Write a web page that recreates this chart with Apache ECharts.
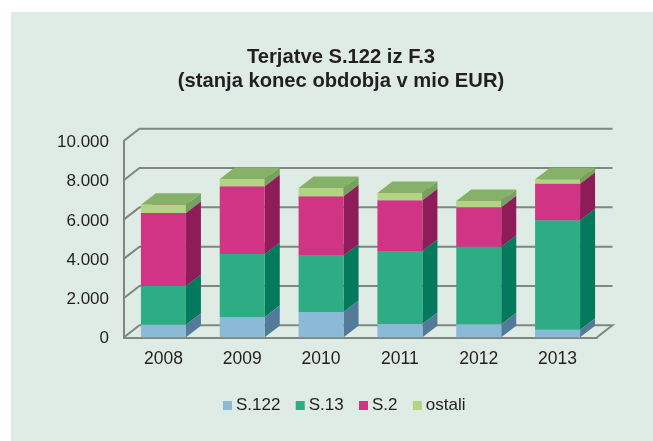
<!DOCTYPE html>
<html>
<head>
<meta charset="utf-8">
<script src="https://cdn.jsdelivr.net/npm/echarts@6/dist/echarts.min.js"></script>
<style>
  html, body { margin: 0; padding: 0; background: #ffffff; }
  #chart { width: 653px; height: 441px; }
</style>
</head>
<body>
<div id="chart"></div>
<script>
const categories = ['2008', '2009', '2010', '2011', '2012', '2013'];
const s122 = [640, 1030, 1290, 680, 660, 390];
const s13 = [1970, 3210, 2865, 3710, 3950, 5560];
const s2 = [3710, 3440, 3015, 2575, 2000, 1865];
const ostali = [425, 370, 425, 375, 320, 220];
const yTicks = [0, 2000, 4000, 6000, 8000, 10000];

const FONT = '"Liberation Sans", Arial, sans-serif';
const TEXT = '#231f20';
const WALL = '#7f8780';
const BG = '#deece5';
const DX = 15;
const DY = -11.5;
const WALL_DX = 15.5;
const WALL_DY = -12;
const BAR_WIDTH = 45;

// back wall + floor lines, drawn from the value axis ticks
const renderWall = (params, api) => {
  const value = api.value(0);
  const p = api.coord([0, value]);
  const left = params.coordSys.x;
  const right = left + params.coordSys.width;
  const y = p[1];
  const points = [[left, y], [left + WALL_DX, y + WALL_DY], [right + WALL_DX, y + WALL_DY]];
  if (value === 0) {
    points.push([right, y]);
  }
  return {
    type: 'polyline',
    shape: { points },
    style: { stroke: WALL, lineWidth: 2, fill: null },
  };
};

const renderBar = (colors) => (params, api) => {
  const center = api.coord([api.value(0), 0])[0];
  const bottom = api.coord([api.value(0), api.value(1)])[1];
  const top = api.coord([api.value(0), api.value(2)])[1];
  const l = center - BAR_WIDTH / 2;
  const r = center + BAR_WIDTH / 2;
  return {
    type: 'group',
    children: [
      {
        type: 'polygon',
        shape: { points: [[r, bottom], [r + DX, bottom + DY], [r + DX, top + DY], [r, top]] },
        style: { fill: colors.side },
      },
      {
        type: 'polygon',
        shape: { points: [[l, top], [r, top], [r + DX, top + DY], [l + DX, top + DY]] },
        style: { fill: colors.top },
      },
      {
        type: 'rect',
        shape: { x: l, y: top, width: BAR_WIDTH, height: bottom - top },
        style: { fill: colors.front },
      },
    ],
  };
};

const stacked = [
  { name: 'S.122', values: s122, colors: { front: '#8abad5', side: '#537a98', top: '#a5cbe0' } },
  { name: 'S.13', values: s13, colors: { front: '#2ead84', side: '#05795b', top: '#2ead84' } },
  { name: 'S.2', values: s2, colors: { front: '#d13485', side: '#8d1c58', top: '#d13485' } },
  { name: 'ostali', values: ostali, colors: { front: '#b3d385', side: '#74a25f', top: '#86b168' } },
];

const totals = categories.map(() => 0);
const barSeries = stacked.map((s) => {
  const data = s.values.map((v, i) => {
    const row = [i, totals[i], totals[i] + v];
    totals[i] += v;
    return row;
  });
  return {
    name: s.name,
    type: 'custom',
    renderItem: renderBar(s.colors),
    encode: { x: 0, y: 2 },
    itemStyle: { color: s.colors.front },
    data,
    z: 3,
    silent: true,
  };
});

const chart = echarts.init(document.getElementById('chart'), null, { renderer: 'canvas' });
chart.setOption({
  animation: false,
  backgroundColor: '#ffffff',
  graphic: [{
    type: 'rect',
    z: -10,
    shape: { x: 11, y: 12, width: 642, height: 429 },
    style: { fill: BG },
  }],
  title: {
    text: 'Terjatve S.122 iz F.3\n(stanja konec obdobja v mio EUR)',
    left: 336,
    top: 40,
    textAlign: 'center',
    textStyle: {
      fontFamily: FONT,
      fontSize: 20.2,
      fontWeight: 'bold',
      color: TEXT,
      lineHeight: 24,
    },
  },
  legend: {
    left: 223,
    top: 397,
    icon: 'rect',
    itemWidth: 9,
    itemHeight: 9,
    itemGap: 15.3,
    padding: 0,
    data: stacked.map((s) => s.name),
    textStyle: { fontFamily: FONT, fontSize: 17, color: TEXT, padding: [0, 0, 0, -1] },
  },
  grid: { left: 124, top: 140.7, width: 473, height: 196.6 },
  xAxis: {
    type: 'category',
    data: categories,
    axisLine: { show: true, lineStyle: { color: WALL, width: 2 } },
    axisTick: { show: false },
    axisLabel: { fontFamily: FONT, fontSize: 17.5, color: TEXT, margin: 13 },
  },
  yAxis: {
    type: 'value',
    min: 0,
    max: 10000,
    interval: 2000,
    axisLine: { show: true, lineStyle: { color: WALL, width: 2 } },
    axisTick: { show: false },
    splitLine: { show: false },
    axisLabel: {
      fontFamily: FONT,
      fontSize: 17,
      color: TEXT,
      margin: 15,
      verticalAlign: 'top',
      lineHeight: 17,
      padding: [-7, 0, 0, 0],
      formatter: (v) => String(v).replace(/\B(?=(\d{3})+$)/g, '.'),
    },
  },
  series: [
    {
      type: 'custom',
      renderItem: renderWall,
      encode: { y: 0 },
      data: yTicks.map((v) => [v]),
      z: 1,
      silent: true,
    },
    ...barSeries,
  ],
});
</script>
</body>
</html>
